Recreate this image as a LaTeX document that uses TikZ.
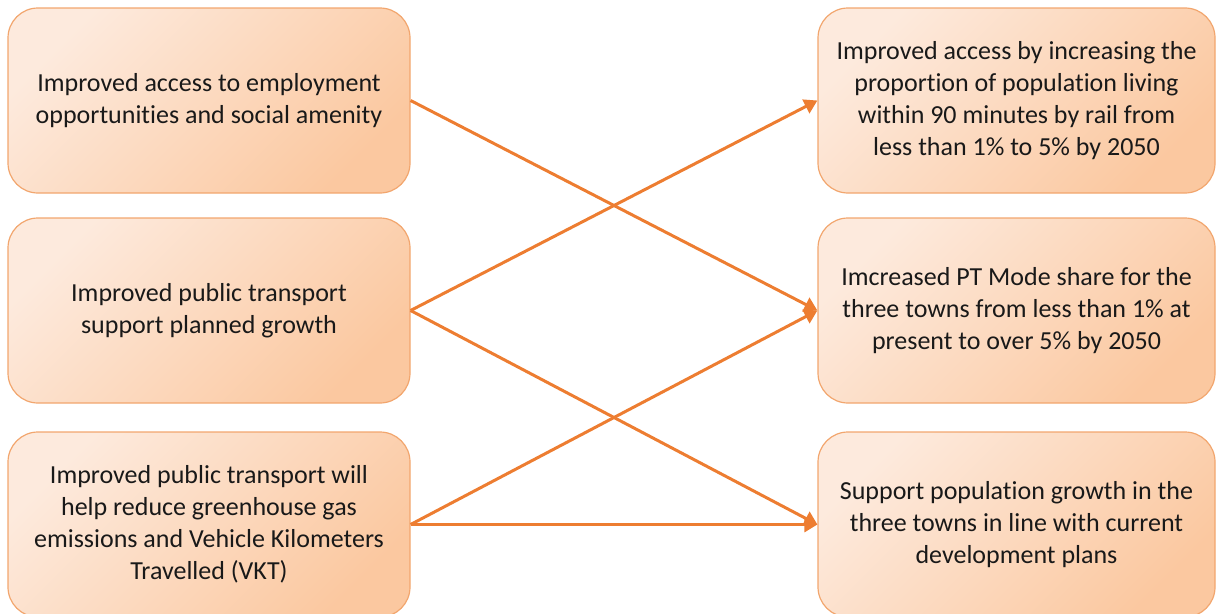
\documentclass[tikz,border=0pt]{standalone}
\usepackage{fontspec}
\setmainfont{Carlito}[Ligatures=NoCommon]
\usetikzlibrary{arrows.meta}
\definecolor{boxlight}{HTML}{FDEADD}
\definecolor{boxdark}{HTML}{FBC8A0}
\definecolor{boxborder}{HTML}{F2A66E}
\definecolor{arrowc}{HTML}{ED7D31}
\tikzset{
  goalbox/.style={draw=boxborder, line width=1.2pt, rounded corners=30pt,
    top color=boxlight, bottom color=boxdark, shading angle=45,
    minimum height=185pt, align=center, text=black!90,
    font=\fontsize{26pt}{32pt}\selectfont, inner sep=0pt},
  leftbox/.style={goalbox, minimum width=402pt},
  rightbox/.style={goalbox, minimum width=397pt},
  link/.style={draw=arrowc, line width=3pt,
    -{Triangle[width=15pt,length=13pt]}}
}
\begin{document}
\begin{tikzpicture}[x=1pt,y=-1pt]
\useasboundingbox (0,0) rectangle (1217,613);
\node[leftbox] (l1) at (209,100.5) {Improved access to employment\\opportunities and social amenity};
\node[leftbox] (l2) at (209,310.5) {Improved public transport\\support planned growth};
\node[leftbox] (l3) at (209,524.5) {Improved public transport will\\help reduce greenhouse gas\\emissions and Vehicle Kilometers\\Travelled (VKT)};
\node[rightbox] (r1) at (1016.5,100.5) {Improved access by increasing the\\proportion of population living\\within 90 minutes by rail from\\less than 1\% to 5\% by 2050};
\node[rightbox] (r2) at (1016.5,310.5) {Imcreased PT Mode share for the\\three towns from less than 1\% at\\present to over 5\% by 2050};
\node[rightbox] (r3) at (1016.5,524.5) {Support population growth in the\\three towns in line with current\\development plans};
\draw[link] (l1.east) -- (r2.west);
\draw[link] (l2.east) -- (r1.west);
\draw[link] (l2.east) -- (r3.west);
\draw[link] (l3.east) -- (r2.west);
\draw[link] (l3.east) -- (r3.west);
\end{tikzpicture}
\end{document}
